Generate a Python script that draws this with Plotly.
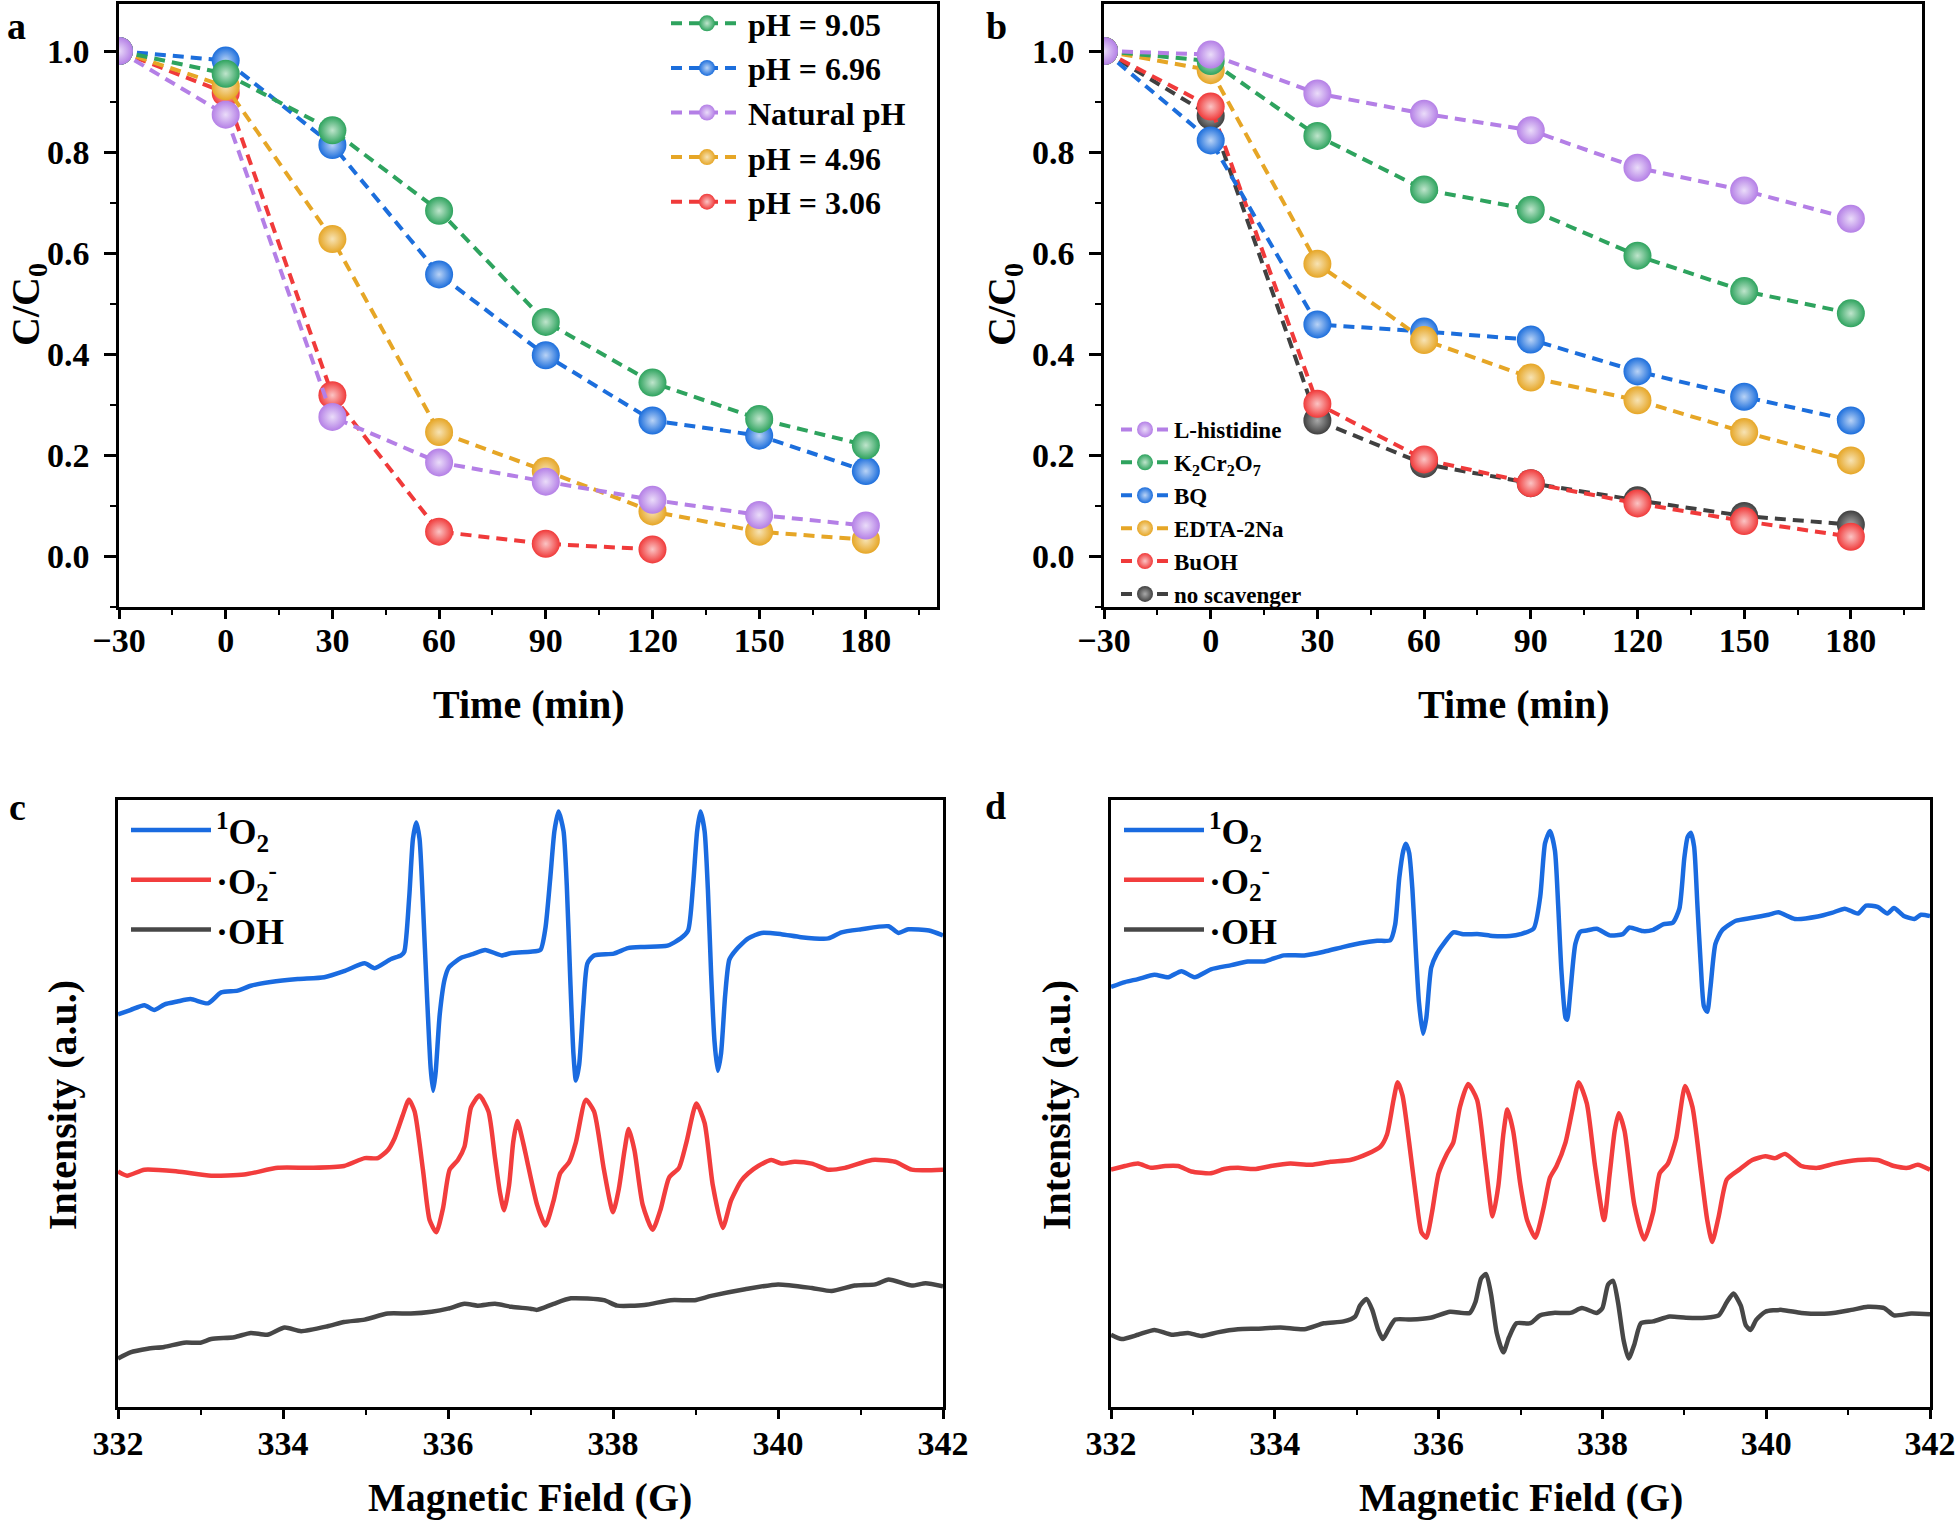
import plotly.graph_objects as go

W, H = 1958, 1524
FONT = "Liberation Serif"

# ---------------- Panel a data ----------------
time_min = [-30, 0, 30, 60, 90, 120, 150, 180]
time_min_short = [-30, 0, 30, 60, 90, 120]
a_ph905 = [1.0, 0.955, 0.843, 0.684, 0.464, 0.344, 0.272, 0.220]
a_ph696 = [1.0, 0.981, 0.814, 0.558, 0.398, 0.269, 0.239, 0.169]
a_natural = [1.0, 0.874, 0.276, 0.186, 0.148, 0.112, 0.082, 0.061]
a_ph496 = [1.0, 0.930, 0.628, 0.246, 0.169, 0.089, 0.049, 0.033]
a_ph306 = [1.0, 0.917, 0.319, 0.049, 0.025, 0.014]

# ---------------- Panel b data ----------------
b_histidine = [1.0, 0.993, 0.916, 0.876, 0.843, 0.769, 0.724, 0.668]
b_k2cr2o7 = [1.0, 0.980, 0.832, 0.726, 0.686, 0.595, 0.525, 0.481]
b_bq = [1.0, 0.823, 0.459, 0.445, 0.429, 0.366, 0.316, 0.269]
b_edta = [1.0, 0.962, 0.579, 0.428, 0.354, 0.309, 0.246, 0.190]
b_buoh = [1.0, 0.890, 0.302, 0.192, 0.145, 0.105, 0.070, 0.039]
b_none = [1.0, 0.872, 0.269, 0.183, 0.145, 0.111, 0.080, 0.063]

time_ticks = [-30, 0, 30, 60, 90, 120, 150, 180]
field_ticks = [332, 334, 336, 338, 340, 342]

# ---------------- Panel c data (EPR, arbitrary units) ----------------
c_o2s_x = [332.00, 332.15, 332.32, 332.44, 332.56, 332.72, 332.88, 333.09, 333.25, 333.45,
           333.61, 333.85, 334.18, 334.50, 334.74, 334.99, 335.11, 335.31, 335.43, 335.47,
           335.53, 335.575, 335.615, 335.655, 335.695, 335.745, 335.79, 335.82, 335.85, 335.90,
           335.96, 336.01, 336.16, 336.30, 336.45, 336.65, 336.77, 337.00, 337.12, 337.18,
           337.24, 337.29, 337.34, 337.40, 337.44, 337.48, 337.52, 337.55, 337.59, 337.64,
           337.69, 337.77, 338.01, 338.18, 338.38, 338.66, 338.82, 338.91, 338.97, 339.02,
           339.06, 339.11, 339.15, 339.19, 339.23, 339.27, 339.31, 339.36, 339.41, 339.49,
           339.64, 339.80, 340.04, 340.28, 340.61, 340.77, 341.01, 341.34, 341.46, 341.58,
           341.83, 342.00]
c_o2s_y = [64.7, 65.4, 66.2, 65.4, 66.3, 66.8, 67.2, 66.5, 68.3, 68.6,
           69.4, 70.0, 70.5, 70.8, 71.8, 73.1, 72.3, 73.8, 74.4, 75.0,
           84.0, 93.6, 96.3, 93.6, 83.3, 67.9, 55.8, 52.1, 55.1, 64.7,
           70.5, 72.4, 74.0, 74.6, 75.3, 74.4, 74.8, 75.0, 75.3, 78.8,
           87.2, 94.9, 98.1, 94.9, 85.9, 71.2, 58.3, 53.8, 56.4, 66.0,
           73.1, 74.4, 74.7, 75.6, 75.8, 76.0, 77.2, 78.5, 85.9, 94.9,
           98.1, 94.9, 85.3, 71.2, 60.3, 55.4, 58.3, 67.9, 73.7, 75.3,
           77.2, 78.1, 77.9, 77.4, 77.2, 78.2, 78.7, 79.2, 78.1, 78.7,
           78.5, 77.7]

c_o2r_x = [332.00, 332.11, 332.32, 332.72, 333.13, 333.53, 333.94, 334.34, 334.74, 334.99,
           335.15, 335.27, 335.35, 335.45, 335.526, 335.595, 335.696, 335.777, 335.858, 335.939,
           336.02, 336.12, 336.20, 336.28, 336.38, 336.49, 336.57, 336.63, 336.68, 336.74,
           336.79, 336.84, 336.91, 336.96, 337.08, 337.18, 337.28, 337.36, 337.47, 337.55,
           337.67, 337.77, 337.89, 338.00, 338.07, 338.14, 338.19, 338.26, 338.36, 338.48,
           338.58, 338.68, 338.80, 338.89, 339.01, 339.11, 339.21, 339.33, 339.43, 339.55,
           339.64, 339.76, 339.92, 340.04, 340.20, 340.41, 340.61, 340.81, 341.14, 341.42,
           341.62, 342.00]
c_o2r_y = [38.8, 38.1, 39.1, 38.8, 38.1, 38.3, 39.4, 39.4, 39.7, 41.0,
           41.0, 42.3, 44.2, 48.0, 50.6, 48.7, 39.1, 30.8, 28.8, 32.7,
           39.1, 40.7, 42.9, 49.4, 51.3, 48.7, 41.0, 35.3, 32.4, 36.5,
           43.6, 47.1, 43.6, 40.5, 33.3, 29.9, 34.0, 38.5, 40.4, 43.6,
           50.6, 48.7, 39.1, 32.1, 35.9, 42.3, 45.8, 42.3, 33.3, 29.2,
           32.7, 37.8, 39.4, 43.6, 50.0, 46.8, 36.5, 29.5, 34.0, 37.2,
           38.5, 39.7, 40.7, 40.1, 40.4, 40.1, 39.1, 39.4, 40.7, 40.4,
           39.1, 39.1]

c_oh_x = [332.00, 332.15, 332.36, 332.56, 332.80, 333.00, 333.13, 333.41, 333.61, 333.81,
          334.02, 334.22, 334.54, 334.74, 334.99, 335.27, 335.55, 335.80, 336.00, 336.20,
          336.36, 336.57, 336.77, 337.00, 337.08, 337.28, 337.49, 337.89, 338.05, 338.38,
          338.70, 338.99, 339.19, 339.60, 340.00, 340.41, 340.65, 340.93, 341.18, 341.34,
          341.62, 341.79, 342.00]
c_oh_y = [8.0, 9.0, 9.6, 9.9, 10.6, 10.6, 11.2, 11.5, 12.2, 11.9,
          13.1, 12.5, 13.3, 14.0, 14.4, 15.4, 15.4, 15.7, 16.2, 17.0,
          16.7, 17.0, 16.5, 16.2, 16.0, 17.0, 17.9, 17.6, 16.7, 16.8,
          17.6, 17.6, 18.3, 19.4, 20.2, 19.6, 19.1, 20.0, 20.2, 21.0,
          20.0, 20.4, 19.9]

# ---------------- Panel d data (EPR, arbitrary units) ----------------
d_o2s_x = [332.00, 332.17, 332.33, 332.53, 332.70, 332.86, 333.02, 333.22, 333.47, 333.67,
           333.87, 334.11, 334.36, 334.60, 334.84, 335.04, 335.25, 335.41, 335.47, 335.52,
           335.57, 335.60, 335.64, 335.68, 335.72, 335.76, 335.81, 335.85, 335.91, 335.98,
           336.06, 336.18, 336.30, 336.50, 336.66, 336.87, 337.00, 337.16, 337.24, 337.30,
           337.36, 337.42, 337.46, 337.50, 337.55, 337.57, 337.61, 337.67, 337.73, 337.81,
           337.93, 338.09, 338.25, 338.33, 338.49, 338.62, 338.74, 338.86, 338.94, 339.00,
           339.04, 339.08, 339.12, 339.16, 339.20, 339.24, 339.28, 339.32, 339.38, 339.46,
           339.63, 339.83, 340.03, 340.15, 340.35, 340.63, 340.80, 340.96, 341.12, 341.22,
           341.36, 341.48, 341.56, 341.68, 341.81, 341.89, 342.00]
d_o2s_y = [69.2, 70.0, 70.5, 71.2, 70.8, 71.8, 70.8, 72.1, 72.8, 73.4,
           73.4, 74.4, 74.4, 75.0, 75.8, 76.4, 76.8, 76.9, 79.5, 87.2,
           91.7, 92.8, 91.3, 85.3, 75.6, 66.7, 61.5, 64.1, 72.4, 74.7,
           76.3, 78.2, 77.9, 77.9, 77.6, 77.6, 77.9, 78.8, 84.0, 92.9,
           94.9, 91.7, 82.7, 71.8, 64.1, 63.8, 68.6, 76.3, 78.3, 78.5,
           78.8, 77.7, 77.9, 79.0, 78.4, 78.6, 79.5, 79.8, 82.1, 90.4,
           93.9, 94.6, 92.3, 82.7, 73.1, 66.0, 65.1, 69.2, 76.3, 78.5,
           80.1, 80.6, 81.1, 81.5, 80.4, 80.8, 81.4, 82.1, 81.3, 82.6,
           82.4, 81.3, 82.2, 80.9, 80.4, 81.1, 80.9]

d_o2r_x = [332.00, 332.17, 332.33, 332.49, 332.66, 332.82, 332.98, 333.22, 333.38, 333.55,
           333.75, 333.95, 334.19, 334.44, 334.68, 334.92, 335.13, 335.29, 335.37, 335.45,
           335.50, 335.56, 335.64, 335.73, 335.79, 335.85, 335.92, 336.00, 336.10, 336.18,
           336.26, 336.36, 336.47, 336.57, 336.66, 336.73, 336.79, 336.84, 336.91, 337.00,
           337.08, 337.18, 337.28, 337.36, 337.44, 337.55, 337.63, 337.71, 337.81, 337.91,
           338.02, 338.09, 338.15, 338.20, 338.27, 338.39, 338.51, 338.62, 338.70, 338.80,
           338.90, 339.01, 339.10, 339.20, 339.28, 339.34, 339.42, 339.52, 339.67, 339.83,
           339.99, 340.11, 340.23, 340.43, 340.63, 340.84, 341.12, 341.36, 341.56, 341.73,
           341.85, 342.00]
d_o2r_y = [39.1, 39.7, 40.1, 39.4, 39.7, 39.7, 38.8, 38.5, 39.2, 39.4,
           39.2, 39.7, 40.1, 39.9, 40.4, 40.7, 41.7, 42.9, 44.9, 50.6,
           53.5, 51.3, 43.6, 34.0, 28.8, 27.9, 32.1, 38.5, 41.7, 43.6,
           49.4, 53.2, 50.6, 40.4, 31.4, 36.5, 44.9, 49.0, 45.5, 36.5,
           30.8, 27.9, 32.7, 37.8, 39.7, 43.6, 48.7, 53.5, 50.0, 39.7,
           30.8, 38.5, 45.5, 48.4, 45.5, 33.3, 27.6, 32.1, 38.5, 40.1,
           44.2, 52.9, 49.4, 39.1, 30.8, 27.2, 31.4, 37.5, 39.1, 40.7,
           41.3, 41.0, 41.7, 39.7, 39.4, 40.1, 40.7, 40.7, 39.7, 39.4,
           39.9, 39.1]

d_oh_x = [332.00, 332.13, 332.33, 332.53, 332.74, 332.94, 333.10, 333.30, 333.55, 333.79,
          334.07, 334.36, 334.60, 334.84, 334.98, 335.04, 335.12, 335.19, 335.26, 335.32,
          335.39, 335.47, 335.66, 335.90, 336.14, 336.38, 336.45, 336.52, 336.58, 336.64,
          336.71, 336.79, 336.86, 336.95, 337.12, 337.24, 337.40, 337.61, 337.75, 337.93,
          338.00, 338.07, 338.13, 338.19, 338.26, 338.32, 338.39, 338.47, 338.62, 338.82,
          339.02, 339.26, 339.42, 339.52, 339.60, 339.69, 339.75, 339.81, 339.88, 339.99,
          340.19, 340.43, 340.76, 341.04, 341.24, 341.44, 341.56, 341.77, 342.00]
d_oh_y = [11.9, 11.2, 11.9, 12.7, 11.9, 12.2, 11.7, 12.3, 12.8, 12.9,
          13.1, 12.8, 13.8, 14.1, 14.9, 16.7, 17.8, 16.0, 12.8, 11.2,
          12.8, 14.4, 14.4, 14.7, 15.7, 15.5, 17.3, 21.2, 21.9, 18.6,
          12.2, 9.0, 11.5, 13.8, 13.8, 15.1, 15.5, 15.5, 16.3, 15.5,
          16.3, 20.2, 20.8, 17.3, 10.9, 8.0, 10.3, 13.8, 14.1, 14.9,
          14.7, 14.7, 15.1, 17.3, 18.7, 16.7, 13.5, 12.7, 14.4, 15.7,
          16.0, 15.5, 15.4, 16.0, 16.5, 16.3, 15.1, 15.4, 15.3]

# ---------------- styling ----------------
GREEN, BLUE, PURPLE, ORANGE, RED, DARK = "#2EA35E", "#1C6EDC", "#B47FE6", "#E6A626", "#F03A3A", "#404040"
TINT = {GREEN: "#BFE5CC", BLUE: "#B9D3F6", PURPLE: "#EADCF9", ORANGE: "#F7E3B4", RED: "#FBC4C4", DARK: "#A8A8A8"}
EPR_BLUE, EPR_RED, EPR_GRAY = "#1A6BE0", "#F23D3D", "#474747"

fig = go.Figure()


def kinetic(x, y, name, color, xa, ya, legend, rank):
    fig.add_trace(go.Scatter(
        x=x, y=y, name=name, mode="lines+markers",
        xaxis=xa, yaxis=ya, legend=legend, legendrank=rank,
        line=dict(color=color, width=4, dash="11px,7px"),
        marker=dict(size=28, color=color, line=dict(width=0),
                    gradient=dict(type="radial", color=TINT[color])),
    ))


# panel a (draw order chosen to match overlaps)
kinetic(time_min_short, a_ph306, "pH = 3.06", RED, "x", "y", "legend", 5)
kinetic(time_min, a_ph496, "pH = 4.96", ORANGE, "x", "y", "legend", 4)
kinetic(time_min, a_ph696, "pH = 6.96", BLUE, "x", "y", "legend", 2)
kinetic(time_min, a_ph905, "pH = 9.05", GREEN, "x", "y", "legend", 1)
kinetic(time_min, a_natural, "Natural pH", PURPLE, "x", "y", "legend", 3)

# panel b
kinetic(time_min, b_none, "no scavenger", DARK, "x2", "y2", "legend2", 6)
kinetic(time_min, b_buoh, "BuOH", RED, "x2", "y2", "legend2", 5)
kinetic(time_min, b_bq, "BQ", BLUE, "x2", "y2", "legend2", 3)
kinetic(time_min, b_edta, "EDTA-2Na", ORANGE, "x2", "y2", "legend2", 4)
kinetic(time_min, b_k2cr2o7, "K<sub>2</sub>Cr<sub>2</sub>O<sub>7</sub>", GREEN, "x2", "y2", "legend2", 2)
kinetic(time_min, b_histidine, "L-histidine", PURPLE, "x2", "y2", "legend2", 1)


def epr(x, y, name, color, xa, ya, legend):
    fig.add_trace(go.Scatter(
        x=x, y=y, name=name, mode="lines", xaxis=xa, yaxis=ya, legend=legend,
        line=dict(color=color, width=4.5, shape="spline", smoothing=0.6),
    ))


NAMES = ["<sup>1</sup>O<sub>2</sub>", "·O<sub>2</sub><sup>-</sup>", "·OH"]
epr(c_o2s_x, c_o2s_y, NAMES[0], EPR_BLUE, "x3", "y3", "legend3")
epr(c_o2r_x, c_o2r_y, NAMES[1], EPR_RED, "x3", "y3", "legend3")
epr(c_oh_x, c_oh_y, NAMES[2], EPR_GRAY, "x3", "y3", "legend3")
epr(d_o2s_x, d_o2s_y, NAMES[0], EPR_BLUE, "x4", "y4", "legend4")
epr(d_o2r_x, d_o2r_y, NAMES[1], EPR_RED, "x4", "y4", "legend4")
epr(d_oh_x, d_oh_y, NAMES[2], EPR_GRAY, "x4", "y4", "legend4")

TICKFONT = dict(family=FONT, size=34, color="black", weight="bold")
AX = dict(showline=True, linecolor="black", linewidth=2.5, mirror=True, automargin=False,
          showgrid=False, zeroline=False, ticks="outside", tickcolor="black",
          tickwidth=2.5, tickfont=TICKFONT, ticklabeloverflow="allow")


def px_x(a, b):
    return [a / W, b / W]


def px_y(top, bottom):
    return [1 - bottom / H, 1 - top / H]


time_x = dict(AX, range=[-30, 200], tickvals=time_ticks, ticklen=9, ticklabelstandoff=-8,
              minor=dict(dtick=15, tick0=-30, ticklen=5, tickwidth=2, tickcolor="black", ticks="outside"))
conc_y = dict(AX, range=[-0.1, 1.093], tick0=0, dtick=0.2, tickformat=".1f", ticklen=12,
              ticklabelstandoff=8,
              minor=dict(dtick=0.1, tick0=0, ticklen=6, tickwidth=2, tickcolor="black", ticks="outside"))
field_x = dict(AX, range=[332, 342], tickvals=field_ticks, ticklen=9, ticklabelstandoff=-5,
               minor=dict(dtick=1, tick0=332, ticklen=5, tickwidth=2, tickcolor="black", ticks="outside"))
int_y = dict(AX, range=[0, 100], ticks="", showticklabels=False)

LEG = dict(bgcolor="rgba(0,0,0,0)", borderwidth=0, xanchor="left", yanchor="top", tracegroupgap=0)

fig.update_layout(
    template="none",
    width=W, height=H, margin=dict(l=0, r=0, t=0, b=0, autoexpand=False),
    paper_bgcolor="white", plot_bgcolor="white",
    font=dict(family=FONT, color="black"),
    xaxis=dict(time_x, domain=px_x(119, 937), anchor="y"),
    yaxis=dict(conc_y, domain=px_y(4, 607), anchor="x"),
    xaxis2=dict(time_x, domain=px_x(1104, 1922), anchor="y2"),
    yaxis2=dict(conc_y, domain=px_y(4, 607), anchor="x2"),
    xaxis3=dict(field_x, domain=px_x(118, 943), anchor="y3"),
    yaxis3=dict(int_y, domain=px_y(800, 1407), anchor="x3"),
    xaxis4=dict(field_x, domain=px_x(1111, 1930), anchor="y4"),
    yaxis4=dict(int_y, domain=px_y(800, 1407), anchor="x4"),
    legend=dict(LEG, x=666 / W, y=1 + 4 / H, itemwidth=72,
                font=dict(family=FONT, size=32, color="black", weight="bold")),
    legend2=dict(LEG, x=1116 / W, y=1 - 408 / H, itemwidth=48,
                 font=dict(family=FONT, size=23, color="black", weight="bold")),
    legend3=dict(LEG, x=126 / W, y=1 - 800 / H, itemwidth=80,
                 font=dict(family=FONT, size=36, color="black", weight="bold")),
    legend4=dict(LEG, x=1119 / W, y=1 - 800 / H, itemwidth=80,
                 font=dict(family=FONT, size=36, color="black", weight="bold")),
)

TITLE = dict(family=FONT, size=40, color="black", weight="bold")
LABEL = dict(family=FONT, size=38, color="black", weight="bold")
ann = []


def add_text(text, x, y, font, angle=0):
    ann.append(dict(text=text, x=x / W, y=1 - y / H, xref="paper", yref="paper",
                    showarrow=False, xanchor="center", yanchor="middle",
                    textangle=angle, font=font))


add_text("a", 16, 26, LABEL)
add_text("b", 997, 26, LABEL)
add_text("c", 17, 807, LABEL)
add_text("d", 995, 806, LABEL)
add_text("Time (min)", 528, 704, TITLE)
add_text("Time (min)", 1513, 704, TITLE)
add_text("C/C<sub>0</sub>", 28, 305, TITLE, -90)
add_text("C/C<sub>0</sub>", 1004, 305, TITLE, -90)
add_text("Magnetic Field (G)", 530, 1497, TITLE)
add_text("Magnetic Field (G)", 1521, 1497, TITLE)
add_text("Intensity (a.u.)", 62, 1105, TITLE, -90)
add_text("Intensity (a.u.)", 1056, 1105, TITLE, -90)
fig.update_layout(annotations=ann)

fig.write_html(
    "out.html",
    config={"displayModeBar": False},
    post_script="document.body.style.margin='0';document.body.style.overflow='hidden';",
)
